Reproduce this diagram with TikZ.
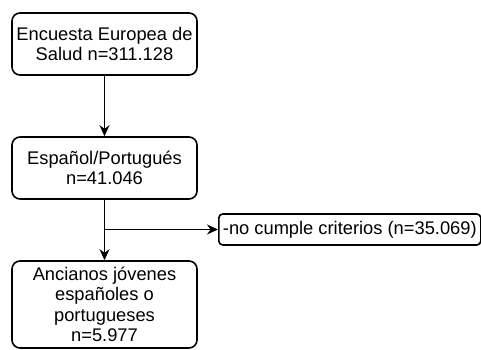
\documentclass[tikz,border=0pt]{standalone}
\usepackage{fontspec}
\setmainfont{Liberation Sans}
\usetikzlibrary{arrows.meta}
\tikzset{
  kasten/.style={draw, rounded corners=8pt, line width=1.6pt, align=center, minimum width=185pt, inner sep=2pt, font=\fontsize{18.3}{20.5}\selectfont},
  linie/.style={line width=1.6pt},
  pfeil/.style={linie, -{Stealth[length=11pt,width=10pt]}}
}
\begin{document}
\begin{tikzpicture}[x=1pt,y=-1pt]
\useasboundingbox (0,0) rectangle (481,350);
% Kaesten
\node[kasten, minimum height=62pt] (encuesta) at (104.5,44) {Encuesta Europea de\\Salud n=311.128};
\node[kasten, minimum height=62pt] (espanol) at (104.5,168) {Español/Portugués\\n=41.046};
\node[kasten, minimum height=87pt] (ancianos) at (104.5,304.5) {Ancianos jóvenes\\españoles o\\portugueses\\n=5.977};
\node[kasten, rounded corners=4pt, minimum width=262pt, minimum height=31pt, anchor=west] (criterios) at (218,229.5) {-no cumple criterios (n=35.069)};

% Verbindungen
\coordinate (abzweig) at (104.5,229.5);
\draw[pfeil] (encuesta) -- (espanol);
\draw[linie] (espanol) -- (abzweig);
\draw[pfeil] (abzweig) -- (ancianos);
\draw[pfeil] (abzweig) -- (criterios);
\end{tikzpicture}
\end{document}
